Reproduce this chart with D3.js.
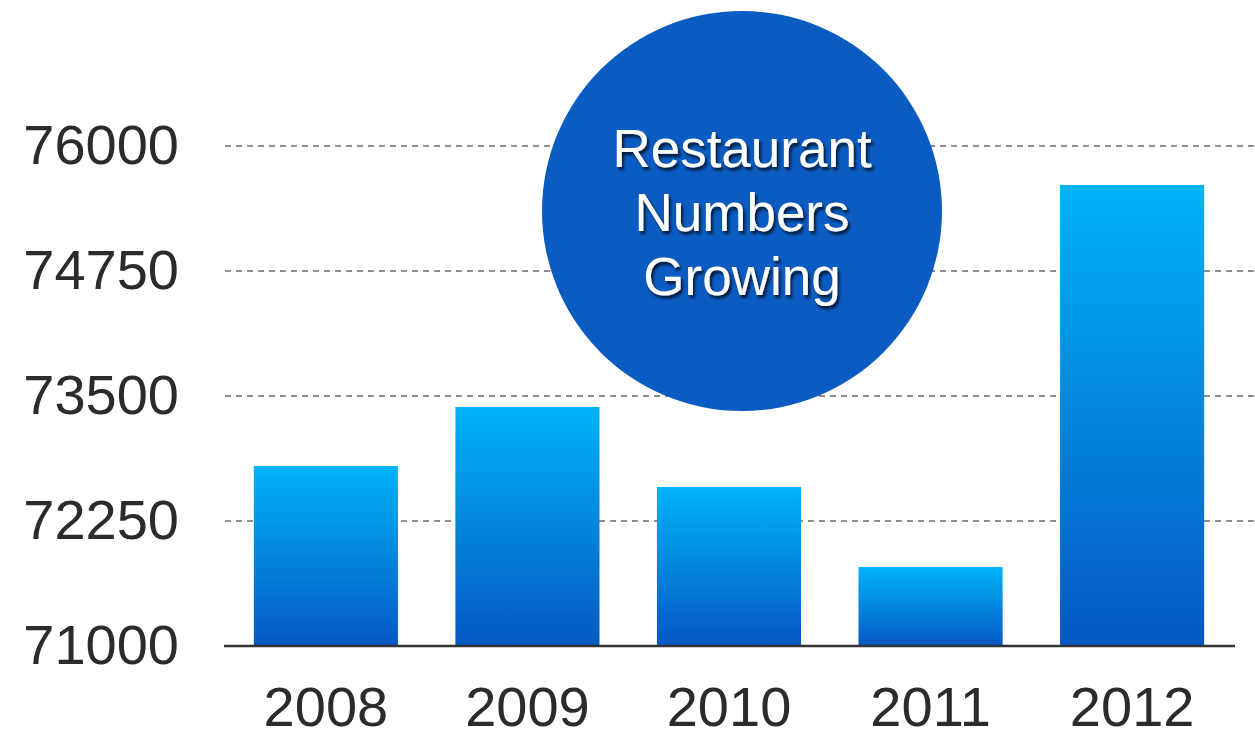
<!DOCTYPE html>
<html>
<head>
<meta charset="utf-8">
<script src="https://cdn.jsdelivr.net/npm/d3@7"></script>
<style>
  body { margin: 0; background: #fff; }
</style>
</head>
<body>
<div id="container"></div>
<script>
const years = ["2008", "2009", "2010", "2011", "2012"];
const counts = [72800, 73390, 72590, 71790, 75610];
const yTicks = [71000, 72250, 73500, 74750, 76000];
const titleLines = ["Restaurant", "Numbers", "Growing"];

const data = years.map((y, i) => ({year: y, value: counts[i]}));

const width = 1255;
const height = 739;
const marginLeft = 225;
const marginRight = 22;

const x = d3.scaleBand(years, [marginLeft, width - marginRight])
  .paddingInner(0.285)
  .paddingOuter(0.143);
const y = d3.scaleLinear([71000, 76000], [646, 146]);

const svg = d3.create("svg")
  .attr("width", width)
  .attr("height", height);

const defs = svg.append("defs");
const grad = defs.append("linearGradient")
  .attr("id", "barGrad")
  .attr("x1", 0).attr("y1", 0).attr("x2", 0).attr("y2", 1);
grad.append("stop").attr("offset", "0%").attr("stop-color", "#00b3f7");
grad.append("stop").attr("offset", "100%").attr("stop-color", "#0658c3");

const shadow = defs.append("filter").attr("id", "txtShadow")
  .attr("x", "-10%").attr("y", "-20%").attr("width", "130%").attr("height", "150%");
shadow.append("feDropShadow")
  .attr("dx", 2).attr("dy", 3).attr("stdDeviation", 1.5)
  .attr("flood-color", "#000").attr("flood-opacity", 0.75);

// grid lines
svg.append("g")
  .selectAll("line")
  .data(yTicks.slice(1))
  .join("line")
    .attr("x1", marginLeft)
    .attr("x2", width)
    .attr("y1", d => y(d))
    .attr("y2", d => y(d))
    .attr("stroke", "#8f8f8f")
    .attr("stroke-width", 2)
    .attr("stroke-dasharray", "6,5");

// y labels
const yAxis = svg.append("g")
  .attr("transform", `translate(${marginLeft},0)`)
  .call(d3.axisLeft(y).tickValues(yTicks).tickSize(0).tickPadding(46).tickFormat(d3.format("d")));
yAxis.select(".domain").remove();
yAxis.selectAll("text")
  .attr("font-family", "'Liberation Sans', Arial, sans-serif")
  .attr("font-size", 56)
  .attr("fill", "#2b2b2b");

// bars
svg.append("g")
  .selectAll("rect")
  .data(data)
  .join("rect")
    .attr("x", d => x(d.year))
    .attr("width", x.bandwidth())
    .attr("y", d => y(d.value))
    .attr("height", d => y(71000) - y(d.value))
    .attr("fill", "url(#barGrad)");

// x axis
const xAxis = svg.append("g")
  .attr("transform", `translate(0,${y(71000)})`)
  .call(d3.axisBottom(x).tickSize(0).tickPadding(40));
xAxis.select(".domain")
  .attr("stroke", "#333")
  .attr("stroke-width", 2.5)
  .attr("d", `M${marginLeft - 1},0H${width - marginRight + 2}`);
xAxis.selectAll("text")
  .attr("font-family", "'Liberation Sans', Arial, sans-serif")
  .attr("font-size", 56)
  .attr("fill", "#2b2b2b");

// bubble
const bubble = svg.append("g").attr("transform", "translate(742,211)");
bubble.append("circle")
  .attr("r", 200)
  .attr("fill", "#0b5cc2");
bubble.append("g")
  .attr("filter", "url(#txtShadow)")
  .selectAll("text")
  .data(titleLines)
  .join("text")
    .attr("text-anchor", "middle")
    .attr("y", (d, i) => -44 + i * 64)
    .attr("font-family", "'Liberation Sans', Arial, sans-serif")
    .attr("font-size", 53)
    .attr("fill", "#fff")
    .text(d => d);

document.getElementById("container").append(svg.node());
</script>
</body>
</html>
